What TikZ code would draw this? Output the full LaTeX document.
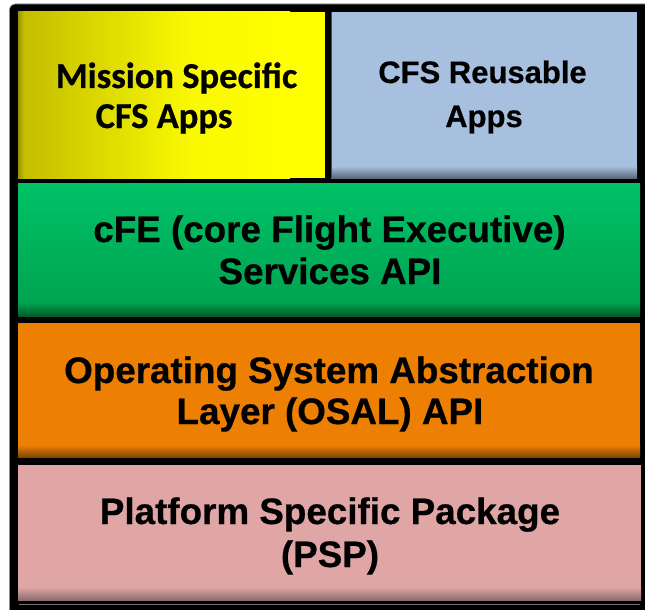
\documentclass[tikz,border=0pt]{standalone}
\usepackage{fontspec}
\newfontfamily\arialB{Liberation Sans}[FakeBold=0.6]
\newfontfamily\arialC{Liberation Sans}[FakeBold=0.5]
\newfontfamily\calB{Carlito}[FakeBold=0.6]
\definecolor{yelL}{HTML}{C4BE00}
\definecolor{yelD}{HTML}{9A9400}
\definecolor{yelR}{HTML}{FFFF00}
\definecolor{bluM}{HTML}{A8C0DF}
\definecolor{bluD}{HTML}{5C6878}
\definecolor{grnT}{HTML}{00C266}
\definecolor{grnB}{HTML}{00A452}
\definecolor{grnD}{HTML}{005A2A}
\definecolor{orgM}{HTML}{ED7F02}
\definecolor{orgD}{HTML}{7A4400}
\definecolor{pnkM}{HTML}{E0A6A6}
\definecolor{pnkD}{HTML}{8E6C6E}
\tikzset{
  lbl/.style={inner sep=0pt, anchor=base, text=black},
  big/.style={lbl, font=\arialB\bfseries\fontsize{36.8}{36.8}\selectfont},
  mid/.style={lbl, font=\arialC\bfseries\fontsize{31}{31}\selectfont},
  cal/.style={lbl, font=\calB\bfseries\fontsize{36.5}{36.5}\selectfont}
}
\begin{document}
\begin{tikzpicture}[x=1pt,y=-1pt]
\useasboundingbox (0,0) rectangle (645,610);
\fill[white] (0,0) rectangle (645,610);
% outer frame
\fill[black, draw=black!45, line width=0.6pt, rounded corners=6pt] (9.5,4) rectangle (670,630);
\draw[black!55, line width=0.8pt] (19,604.5) -- (640,604.5);
% yellow box
\shade[left color=yelD, right color=yelL] (18,12) rectangle (24,178);
\shade[left color=yelL, right color=yelR!90!yelL] (24,12) rectangle (190,178);
\shade[left color=yelR!90!yelL, right color=yelR] (190,12) rectangle (290,178);
\fill[yelR] (290,12) rectangle (325,178);
% blue box
\fill[bluM] (331,12) rectangle (637,178);
\shade[top color=bluM, bottom color=bluD] (331,166) rectangle (637,178);
\draw[black!70, line width=1pt] (331.5,12) -- (331.5,178);
% green box
\shade[top color=grnT, bottom color=grnB] (18,183.5) rectangle (640,302);
\shade[top color=grnB, bottom color=grnD] (18,302) rectangle (640,316.5);
% orange box
\fill[orgM] (18,323) rectangle (640,445);
\shade[top color=orgM, bottom color=orgD] (18,445) rectangle (640,457.5);
% pink box
\fill[pnkM] (18,465) rectangle (641,587);
\shade[top color=pnkM, bottom color=pnkD] (18,587) rectangle (641,600);
% texts
\node[cal] (msA) at (176.5,88) {Mission Specific};
\node[cal] (msB) at (164,128) {CFS Apps};
\node[mid] (crA) at (482.5,83) {CFS Reusable};
\node[mid] (crB) at (484,127) {Apps};
\node[big] (cfeA) at (329.5,242) {cFE (core Flight Executive)};
\node[big] (cfeB) at (330,284) {Services API};
\node[big] (osA) at (329,383) {Operating System Abstraction};
\node[big] (osB) at (330,424) {Layer (OSAL) API};
\node[big] (psA) at (330,524) {Platform Specific Package};
\node[big] (psB) at (330,567) {(PSP)};
\end{tikzpicture}
\end{document}
